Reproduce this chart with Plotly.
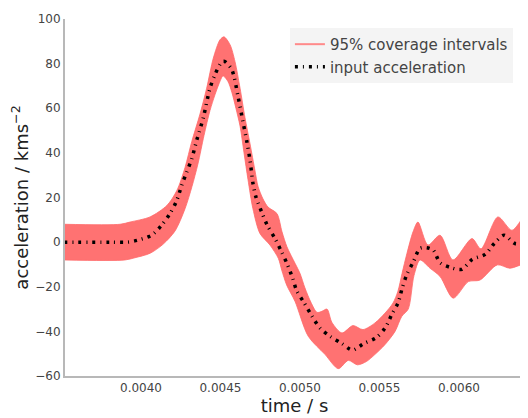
import plotly.graph_objects as go

# ---- data ----
mean_t = [0.003516, 0.003805, 0.003918, 0.003981, 0.004067, 0.004130, 0.004182, 0.004225,
          0.004256, 0.004287, 0.004319, 0.004350, 0.004392, 0.004434, 0.004465, 0.004508,
          0.004525, 0.004570, 0.004612, 0.004640, 0.004665, 0.004686, 0.004704, 0.004723,
          0.004759, 0.004794, 0.004843, 0.004881, 0.004920, 0.004954, 0.004979, 0.005027,
          0.005074, 0.005126, 0.005189, 0.005262, 0.005329, 0.005403, 0.005478, 0.005535,
          0.005577, 0.005618, 0.005643, 0.005671, 0.005713, 0.005755, 0.005797, 0.005838,
          0.005881, 0.005948, 0.006017, 0.006084, 0.006164, 0.006222, 0.006283, 0.006352,
          0.006415, 0.006450]
mean_a = [0.0, 0.0, 0.0, 0.9, 3.1, 7.6, 12.8, 18.7,
          25.4, 31.3, 37.3, 45.5, 55.8, 69.0, 75.0, 80.8,
          81.0, 77.5, 64.7, 54.4, 45.4, 36.5, 26.5, 20.2,
          13.5, 7.6, 1.6, -3.9, -9.9, -16.2, -21.7, -27.3,
          -33.0, -38.5, -42.2, -45.4, -48.4, -45.4, -42.9, -38.5,
          -32.5, -27.0, -20.6, -14.7, -8.8, -2.8, -2.5, -3.6,
          -9.2, -11.4, -12.2, -7.7, -5.5, -0.6, 3.1, -0.6,
          -0.3, 0.5]

upper_t = [0.003516, 0.003868, 0.003931, 0.004057, 0.004164, 0.004226, 0.004277, 0.004319,
           0.004371, 0.004413, 0.004455, 0.004497, 0.004522, 0.004560, 0.004591, 0.004623,
           0.004654, 0.004686, 0.004717, 0.004736, 0.004767, 0.004799, 0.004855, 0.004887,
           0.004918, 0.004969, 0.005000, 0.005031, 0.005069, 0.005107, 0.005138, 0.005170,
           0.005201, 0.005264, 0.005333, 0.005396, 0.005472, 0.005535, 0.005585, 0.005616,
           0.005642, 0.005673, 0.005711, 0.005742, 0.005805, 0.005881, 0.005962, 0.006082,
           0.006138, 0.006245, 0.006333, 0.006415, 0.006450]
upper_a = [8.0, 8.0, 9.0, 11.3, 16.5, 23.2, 33.5, 45.0,
           57.4, 69.0, 82.5, 90.7, 92.0, 88.5, 81.0, 69.0,
           55.8, 44.0, 32.0, 25.0, 19.4, 15.7, 12.8, 4.6,
           -2.1, -9.5, -14.0, -20.5, -27.0, -31.5, -31.0, -30.0,
           -36.0, -40.7, -37.4, -39.2, -36.2, -31.8, -27.3, -22.0,
           -14.0, -5.0, 4.6, 9.0, -1.3, 3.1, -8.0, 1.6,
           -3.0, 11.3, 5.3, 12.0, 13.0]

lower_t = [0.003516, 0.003899, 0.003962, 0.004057, 0.004138, 0.004214, 0.004277, 0.004321,
           0.004358, 0.004396, 0.004434, 0.004465, 0.004491, 0.004516, 0.004547, 0.004572,
           0.004597, 0.004623, 0.004648, 0.004673, 0.004704, 0.004748, 0.004811, 0.004864,
           0.004885, 0.004916, 0.004969, 0.005052, 0.005157, 0.005241, 0.005304, 0.005361,
           0.005418, 0.005472, 0.005535, 0.005598, 0.005640, 0.005681, 0.005717, 0.005755,
           0.005818, 0.005881, 0.005964, 0.006059, 0.006132, 0.006241, 0.006321, 0.006415,
           0.006450]
lower_a = [-8.0, -8.0, -7.0, -5.0, -1.0, 5.0, 15.0, 25.0,
           35.0, 47.7, 59.0, 66.0, 71.0, 74.5, 72.0, 67.0,
           60.0, 52.0, 40.0, 28.0, 15.0, 3.9, -1.3, -7.3,
           -12.5, -19.2, -26.6, -42.2, -50.3, -56.7, -53.0, -55.0,
           -53.5, -50.3, -45.9, -40.0, -33.3, -30.0, -15.0, -8.0,
           -11.7, -15.4, -25.1, -17.7, -17.0, -10.2, -11.7, -9.5,
           -9.0]

x_ticks = [0.0040, 0.0045, 0.0050, 0.0055, 0.0060]
x_tick_labels = ["0.0040", "0.0045", "0.0050", "0.0055", "0.0060"]
y_ticks = [-60, -40, -20, 0, 20, 40, 60, 80, 100]
y_tick_labels = ["\u221260", "\u221240", "\u221220", "0", "20", "40", "60", "80", "100"]

band_color = "#ff7272"
font_family = "DejaVu Sans"

fig = go.Figure()

# coverage band (closed polygon: upper edge forward, lower edge back)
band_x = upper_t + lower_t[::-1]
band_y = upper_a + lower_a[::-1]
fig.add_trace(go.Scatter(
    x=band_x, y=band_y, mode="lines", fill="toself",
    fillcolor=band_color, line=dict(color="#ff6a6a", width=0.8, shape="spline", smoothing=0.8),
    showlegend=False, hoverinfo="skip"))

# legend entry for the band (line symbol as in the reference)
fig.add_trace(go.Scatter(
    x=[None], y=[None], mode="lines", name="95% coverage intervals",
    line=dict(color="#ff8a8a", width=2)))

# input acceleration
fig.add_trace(go.Scatter(
    x=mean_t, y=mean_a, mode="lines", name="input acceleration",
    line=dict(color="black", width=3.5, dash="3px,5px,1px,5px", shape="spline", smoothing=0.8),
    hoverinfo="skip"))

# the page body has an 8px margin, so the figure is 8px smaller than the window
fig.update_layout(
    width=520, height=410,
    margin=dict(l=57, r=4, t=9, b=42),
    paper_bgcolor="white", plot_bgcolor="white",
    font=dict(family=font_family, color="#333333", size=12),
    showlegend=True,
    legend=dict(
        x=0.49, y=0.975, xanchor="left", yanchor="top",
        bgcolor="#f4f4f4", borderwidth=0,
        font=dict(family=font_family, size=15, color="#444444"),
        tracegroupgap=0, itemwidth=30,
    ),
    xaxis=dict(
        range=[0.003522, 0.006409],
        tickvals=x_ticks, ticktext=x_tick_labels,
        showgrid=False, zeroline=False,
        showline=True, linecolor="#b8b8b8", linewidth=2,
        ticks="", tickfont=dict(size=12, color="#444444"),
        title=dict(text="time / s", font=dict(size=18, color="#222222"), standoff=4),
        mirror=False,
    ),
    yaxis=dict(
        range=[-60, 100],
        tickvals=y_ticks, ticktext=y_tick_labels,
        showgrid=False, zeroline=False,
        showline=True, linecolor="#b8b8b8", linewidth=2,
        ticks="", tickfont=dict(size=12, color="#444444"),
        title=dict(text="acceleration / kms<sup>\u22122</sup>", font=dict(size=18, color="#222222"), standoff=8),
        mirror=False,
    ),
)

fig.write_html("out.html", config={"displayModeBar": False})
